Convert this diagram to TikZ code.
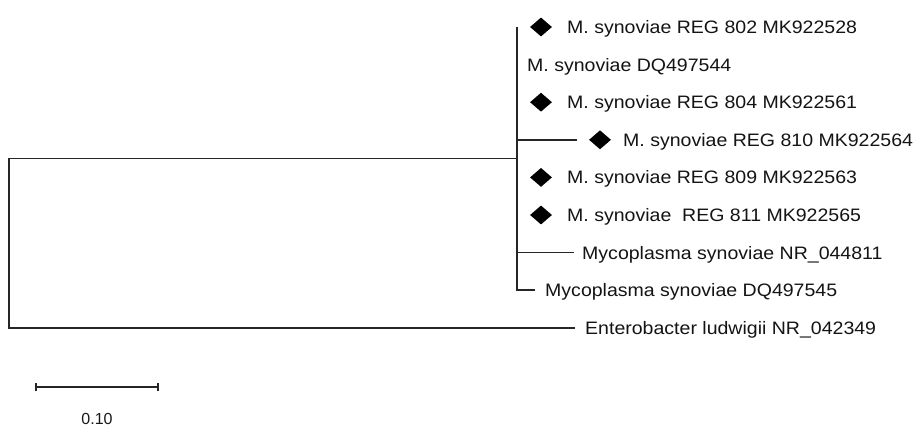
\documentclass[tikz,border=0pt]{standalone}
\usepackage{fontspec}
\setmainfont{Liberation Sans}
\usetikzlibrary{shapes.geometric}
\newcommand{\wlab}[1]{\scalebox{1.085}[1]{#1}}
\begin{document}
\begin{tikzpicture}[x=1pt,y=-1pt,
  branch/.style={draw=black!85, line width=1.5pt},
  taxon/.style={anchor=west, inner sep=0pt, text height=12.9pt, text depth=0pt,
    font=\fontsize{18}{21}\selectfont, text=black!92},
  diam/.style={diamond, fill=black, inner sep=0pt, minimum width=22pt, minimum height=19pt}]
\useasboundingbox (0,0) rectangle (918,428);
\fill[white] (0,0) rectangle (918,428);

% taxa
\node[diam]  (d1) at (541,27) {};
\node[taxon] (t1) at (567,27) {\wlab{M. synoviae REG 802 MK922528}};
\node[taxon] (t2) at (527,64.6) {\wlab{M. synoviae DQ497544}};
\node[diam]  (d3) at (541,102.2) {};
\node[taxon] (t3) at (567,102.2) {\wlab{M. synoviae REG 804 MK922561}};
\node[diam]  (d4) at (600,139.8) {};
\node[taxon] (t4) at (623,139.8) {\wlab{M. synoviae REG 810 MK922564}};
\node[diam]  (d5) at (541,177.4) {};
\node[taxon] (t5) at (567,177.4) {\wlab{M. synoviae REG 809 MK922563}};
\node[diam]  (d6) at (541,215) {};
\node[taxon] (t6) at (567,215) {\wlab{M. synoviae\ \ REG 811 MK922565}};
\node[taxon] (t7) at (582,252.6) {\wlab{Mycoplasma synoviae NR\_044811}};
\node[taxon] (t8) at (545,290.2) {\wlab{Mycoplasma synoviae DQ497545}};
\node[taxon] (t9) at (585,327.8) {\wlab{Enterobacter ludwigii NR\_042349}};

% tree coordinates
\coordinate (inn) at (517,158.5);
\coordinate (innTop) at (517,27);
\coordinate (innBot) at (517,290.2);
\coordinate (tip8) at (535,290.2);
\coordinate (b4) at (517,139.8);
\coordinate (tip4) at (577,139.8);
\coordinate (b7) at (517,252.6);
\coordinate (tip7) at (574,252.6);
\coordinate (rootTop) at (9,158.5);
\coordinate (rootBot) at (9,327.8);
\coordinate (tip9) at (575,327.8);

\draw[branch] (innTop) -- (innBot) -- (tip8);
\draw[branch] (b4) -- (tip4);
\draw[branch] (b7) -- (tip7);
\draw[branch] (inn) -- (rootTop) -- (rootBot) -- (tip9);

% scale bar
\coordinate (sbL) at (36,387);
\coordinate (sbR) at (158,387);
\draw[branch, line width=1.4pt] (sbL) -- (sbR);
\draw[branch, line width=1.4pt] ([yshift=-4pt]sbL) -- ([yshift=4pt]sbL);
\draw[branch, line width=1.4pt] ([yshift=-4pt]sbR) -- ([yshift=4pt]sbR);
\node[font=\fontsize{16}{19}\selectfont, text=black!90, inner sep=0pt] (sblab) at (97,419) {0.10};
\end{tikzpicture}
\end{document}
